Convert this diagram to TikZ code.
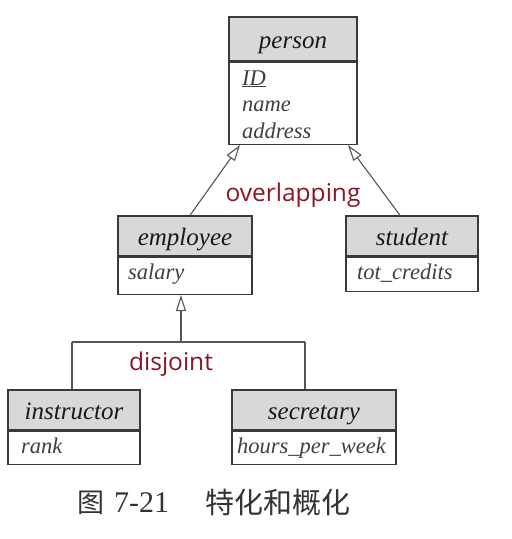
\documentclass[tikz,border=0pt]{standalone}
\usepackage{fontspec}
\newfontfamily\labelfont{Open Sans}
\newfontfamily\cjkfont{Noto Sans CJK SC}
\newfontfamily\numfont{Liberation Serif}
\newfontfamily\boxfont{Liberation Serif}
\usetikzlibrary{arrows.meta,calc}
\definecolor{boxline}{HTML}{3A3A3A}
\definecolor{hdrfill}{HTML}{D8D8D8}
\definecolor{connline}{HTML}{555555}
\definecolor{notecol}{RGB}{140,20,35}
\definecolor{captcol}{HTML}{333333}
\tikzset{
  hdr/.style={draw=boxline, line width=1.4pt, fill=hdrfill, inner sep=0pt, text height=19pt, text depth=0pt, font=\boxfont\fontsize{25}{28}\selectfont\itshape, text=black!90},
  bodybox/.style={draw=boxline, line width=1.4pt, fill=white, inner sep=0pt},
  attr/.style={anchor=base west, inner sep=0pt, font=\boxfont\fontsize{22.5}{26}\selectfont\itshape, text=black!75},
  conn/.style={draw=connline, line width=1.1pt},
  gen/.style={conn, -{Triangle[open, length=16pt, width=10pt]}},
  note/.style={text=notecol, font=\labelfont\fontsize{24.5}{28}\selectfont, inner sep=0pt},
}
\begin{document}
\begin{tikzpicture}[x=1pt, y=-1pt]
\useasboundingbox (0,0) rectangle (512,539);
% person
\node[hdr, minimum width=128pt, minimum height=44pt] (personH) at (293,39) {person};
\node[bodybox, minimum width=128pt, minimum height=82pt, anchor=north] (personB) at (personH.south) {};
\node[attr] (pid) at (242,85) {\underline{ID}};
\node[attr] (pname) at (242,111) {name};
\node[attr] (paddr) at (242,138) {address};
% employee
\node[hdr, minimum width=134pt, minimum height=40pt] (empH) at (185,236) {employee};
\node[bodybox, minimum width=134pt, minimum height=37pt, anchor=north] (empB) at (empH.south) {};
\node[attr] (esal) at (128,279) {salary};
% student
\node[hdr, minimum width=132pt, minimum height=40pt] (stuH) at (412,236) {student};
\node[bodybox, minimum width=132pt, minimum height=34pt, anchor=north] (stuB) at (stuH.south) {};
\node[attr] (stot) at (357,279) {tot\_credits};
% instructor
\node[hdr, minimum width=132pt, minimum height=40pt] (insH) at (74,410) {instructor};
\node[bodybox, minimum width=132pt, minimum height=33pt, anchor=north] (insB) at (insH.south) {};
\node[attr] (irank) at (21,453) {rank};
% secretary
\node[hdr, minimum width=164pt, minimum height=40pt] (secH) at (314,410) {secretary};
\node[bodybox, minimum width=164pt, minimum height=33pt, anchor=north] (secB) at (secH.south) {};
\node[attr] (shours) at (237,453) {hours\_per\_week};
% overlapping generalization
\draw[gen] ($(empH.north)+(5,0)$) -- ($(personB.south)+(-53,0)$);
\draw[gen] ($(stuH.north)+(-12,0)$) -- ($(personB.south)+(55,0)$);
\node[note] (ov) at (293,195) {overlapping};
% disjoint generalization
\coordinate (j) at (181,342);
\coordinate (jl) at (72,342);
\coordinate (jr) at (305,342);
\draw[gen] (j) -- (empB.south -| j);
\draw[conn] (jl) -- (jr);
\draw[conn] (jl) -- (insH.north -| jl);
\draw[conn] (jr) -- (secH.north -| jr);
\node[note] (dj) at (171,364) {disjoint};
% caption
\node[anchor=west, inner sep=0pt, text=captcol] (cap1) at (77,503) {{\cjkfont\fontsize{27}{30}\selectfont 图}\hspace{10pt}{\numfont\fontsize{30}{32}\selectfont 7-21}};
\node[anchor=west, inner sep=0pt, text=captcol, font=\cjkfont\fontsize{29}{32}\selectfont] (cap2) at (205,503) {特化和概化};
\end{tikzpicture}
\end{document}
